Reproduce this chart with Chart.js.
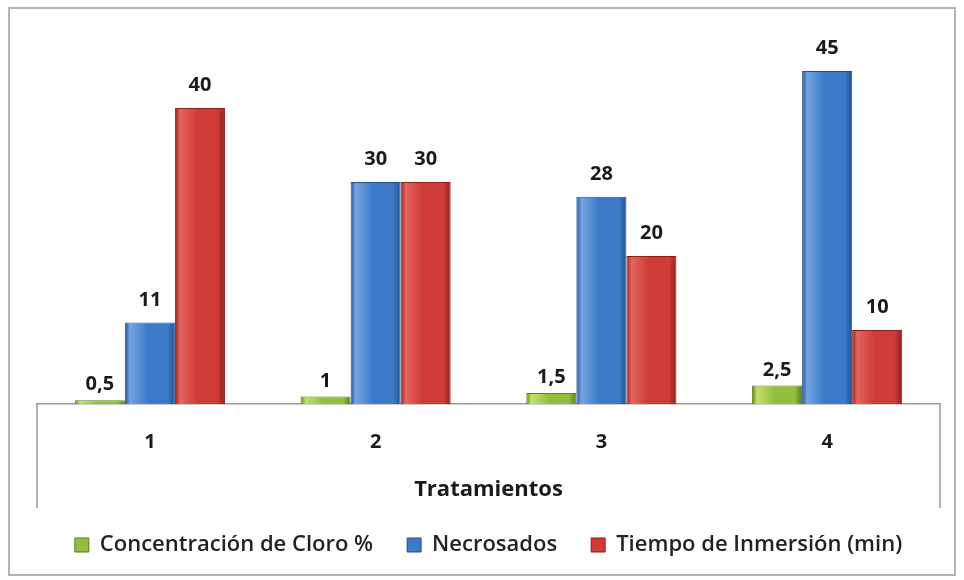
<!DOCTYPE html>
<html>
<head>
<meta charset="utf-8">
<script src="https://cdn.jsdelivr.net/npm/chart.js@4.4.1/dist/chart.umd.min.js"></script>
<style>
  html, body { margin: 0; padding: 0; background: #fff; }
  #wrap { width: 964px; height: 580px; }
</style>
</head>
<body>
<div id="wrap"><canvas id="chart" width="964" height="580"></canvas></div>
<script>
// ── Datos ────────────────────────────────────────────────────────────────
const CATEGORIES = ["1", "2", "3", "4"]
const SERIES_NAMES = ["Concentración de Cloro %", "Necrosados", "Tiempo de Inmersión (min)"]
const CLORO      = [0.5, 1, 1.5, 2.5]
const NECROSADOS = [11, 30, 28, 45]
const TIEMPO     = [40, 30, 20, 10]
const AXIS_TITLE = "Tratamientos"

// colores estilo Office 2007: base, claro, oscuro
const PALETTE = [
  { base: "#93bf3c", light: "#c4e06e", dark: "#5e7d1e" },
  { base: "#3d7bc8", light: "#74a4e0", dark: "#23518f" },
  { base: "#cf3b36", light: "#e4655f", dark: "#8c211e" }
]

const fmt = v => String(v).replace(".", ",")

// Degradado horizontal por barra (efecto biselado)
const barShade = {
  id: "barShade",
  beforeDatasetsDraw(chart) {
    const ctx = chart.ctx
    chart.data.datasets.forEach((ds, di) => {
      const p = PALETTE[di]
      chart.getDatasetMeta(di).data.forEach(el => {
        const x0 = el.x - el.width / 2
        const x1 = el.x + el.width / 2
        const g = ctx.createLinearGradient(x0, 0, x1, 0)
        g.addColorStop(0,    p.dark)
        g.addColorStop(0.1,  p.light)
        g.addColorStop(0.45, p.base)
        g.addColorStop(0.85, p.base)
        g.addColorStop(1,    p.dark)
        el.options.backgroundColor = g
      })
    })
  }
}

// Etiquetas de valor encima de cada barra
const valueLabels = {
  id: "valueLabels",
  afterDatasetsDraw(chart) {
    const ctx = chart.ctx
    ctx.save()
    ctx.font = "bold 20px 'Open Sans'"
    ctx.fillStyle = "#1a1a1a"
    ctx.textAlign = "center"
    ctx.textBaseline = "alphabetic"
    chart.data.datasets.forEach((ds, di) => {
      const gap = di === 0 ? 10 : 17
      chart.getDatasetMeta(di).data.forEach((el, i) => {
        ctx.fillText(fmt(ds.data[i]), el.x, el.y - gap)
      })
    })
    ctx.restore()
  }
}

// Marco exterior y líneas laterales del eje de categorías
const frame = {
  id: "frame",
  beforeDraw(chart) {
    const ctx = chart.ctx
    ctx.save()
    ctx.fillStyle = "#fff"
    ctx.fillRect(0, 0, chart.width, chart.height)
    ctx.strokeStyle = "#b4b4b4"
    ctx.lineWidth = 2
    ctx.strokeRect(9, 8, 946, 567)
    ctx.restore()
  },
  afterDraw(chart) {
    const { left, right, bottom } = chart.chartArea
    const ctx = chart.ctx
    ctx.save()
    ctx.strokeStyle = "#9a9a9a"
    ctx.lineWidth = 1.5
    ctx.beginPath()
    ctx.moveTo(left, bottom); ctx.lineTo(left, bottom + 104)
    ctx.moveTo(right, bottom); ctx.lineTo(right, bottom + 104)
    ctx.stroke()
    ctx.restore()
  }
}

const seriesData = [CLORO, NECROSADOS, TIEMPO]

new Chart(document.getElementById("chart"), {
  type: "bar",
  data: {
    labels: CATEGORIES,
    datasets: seriesData.map((vals, i) => ({
      label: SERIES_NAMES[i],
      data: vals,
      backgroundColor: () => PALETTE[i].base,
      borderColor: PALETTE[i].dark,
      borderWidth: 1,
      categoryPercentage: 0.665,
      barPercentage: 1
    }))
  },
  options: {
    responsive: false,
    animation: false,
    layout: { padding: { left: 37, right: 24, top: 34, bottom: 14 } },
    plugins: {
      legend: {
        position: "bottom",
        labels: {
          boxWidth: 14,
          boxHeight: 14,
          padding: 34,
          color: "#222",
          font: { family: "'Open Sans'", size: 22, weight: "600" }
        }
      },
      tooltip: { enabled: false }
    },
    scales: {
      x: {
        grid: { display: false, drawTicks: false },
        border: { display: true, color: "#9a9a9a", width: 1.5 },
        ticks: {
          padding: 26,
          color: "#1a1a1a",
          font: { family: "'Open Sans'", size: 20, weight: "bold" }
        },
        title: {
          display: true,
          text: AXIS_TITLE,
          color: "#1a1a1a",
          padding: { top: 0, bottom: -3 },
          font: { family: "'Open Sans'", size: 22, weight: "bold" }
        },
        afterFit: s => { s.height = 96 }
      },
      y: {
        display: false,
        min: 0,
        max: 50
      }
    }
  },
  plugins: [frame, barShade, valueLabels]
})
</script>
</body>
</html>
